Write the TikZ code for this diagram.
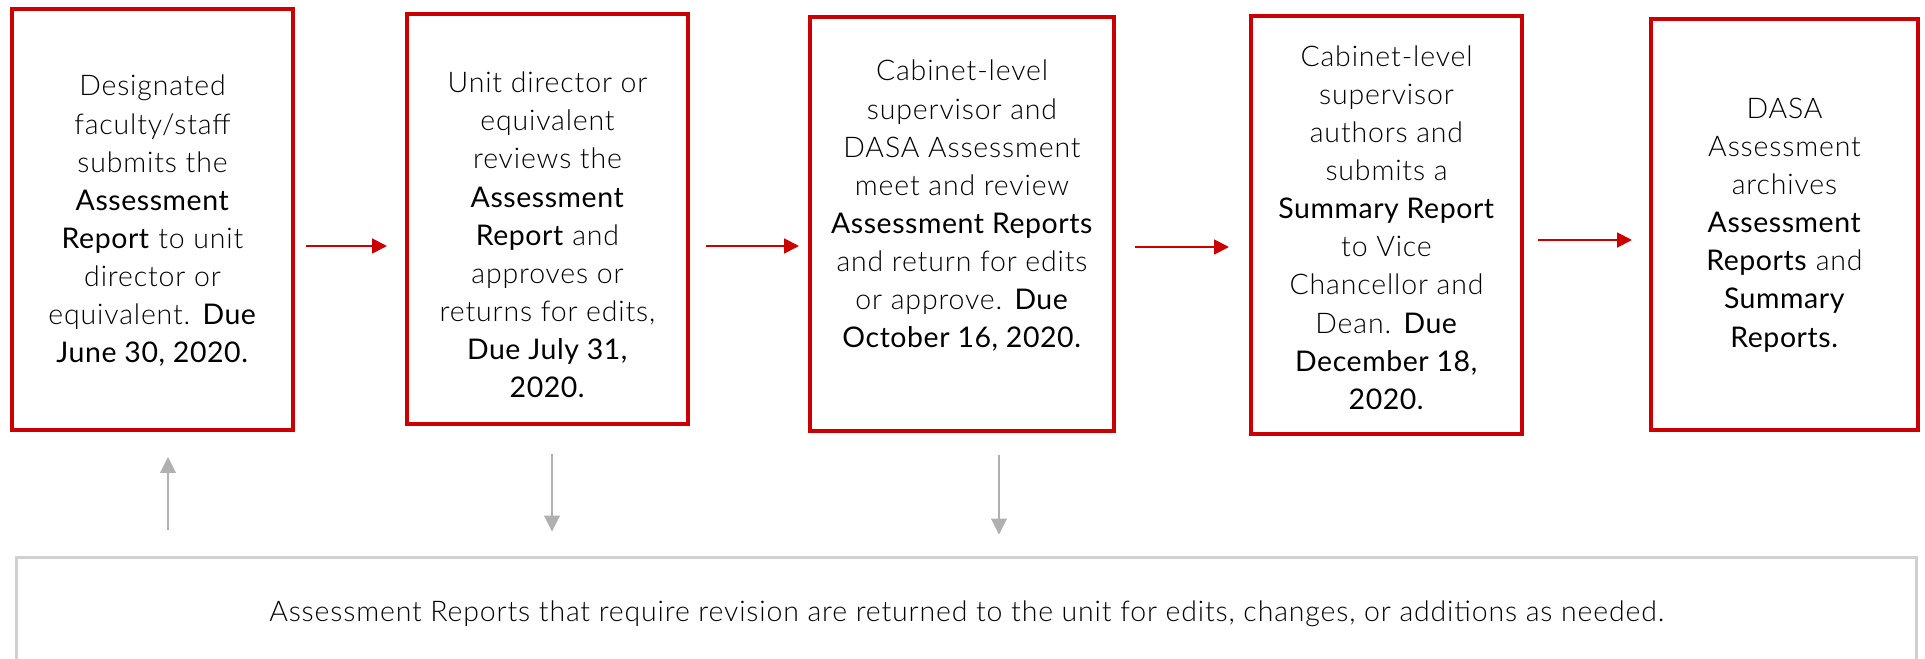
\documentclass[tikz,border=0pt]{standalone}
\usepackage{fontspec}
\setmainfont{Lato Light}[LetterSpace=3,BoldFont=Lato,BoldFeatures={LetterSpace=2}]
\usetikzlibrary{arrows.meta,calc}
\definecolor{boxred}{RGB}{204,0,0}
\definecolor{arrgrey}{RGB}{176,176,176}
\definecolor{framegrey}{RGB}{208,208,208}
\begin{document}
\begin{tikzpicture}[x=0.02cm,y=-0.02cm,
	stepbox/.style={draw=boxred,line width=2.3pt,inner sep=0pt},
	steptxt/.style={align=center,text=black,font=\fontsize{16.2}{21.7}\selectfont},
	redarr/.style={boxred,line width=1.1pt,-{Triangle[length=8.5pt,width=8.5pt]}},
	greyarr/.style={arrgrey,line width=0.6pt,-{Triangle[length=9pt,width=9pt]}}]
	\useasboundingbox (0,0) rectangle (1925,659);
	\clip (0,0) rectangle (1925,659);
	% cac buoc
	\node[stepbox,minimum width=281*0.02cm,minimum height=421*0.02cm] (b1) at (152.5,219.5) {};
	\node[stepbox,minimum width=281*0.02cm,minimum height=410*0.02cm] (b2) at (547.5,219) {};
	\node[stepbox,minimum width=304*0.02cm,minimum height=414*0.02cm] (b3) at (962,224) {};
	\node[stepbox,minimum width=271*0.02cm,minimum height=418*0.02cm] (b4) at (1386.5,225) {};
	\node[stepbox,minimum width=267*0.02cm,minimum height=411*0.02cm] (b5) at (1784.5,224.5) {};
	\node[steptxt] (t1) at ($(b1)+(0,1.5)$) {Designated\\faculty/staff\\submits the\\\textbf{Assessment}\\\textbf{Report} to unit\\director or\\equivalent. \textbf{Due}\\\textbf{June 30, 2020.}};
	\node[steptxt] (t2) at ($(b2)+(0,16)$) {Unit director or\\equivalent\\reviews the\\\textbf{Assessment}\\\textbf{Report} and\\approves or\\returns for edits,\\\textbf{Due July 31,}\\\textbf{2020.}};
	\node[steptxt] (t3) at ($(b3)+(0,-18)$) {Cabinet-level\\supervisor and\\DASA Assessment\\meet and review\\\textbf{Assessment Reports}\\and return for edits\\or approve. \textbf{Due}\\\textbf{October 16, 2020.}};
	\node[steptxt] (t4) at ($(b4)+(0,2.5)$) {Cabinet-level\\supervisor\\authors and\\submits a\\\textbf{Summary Report}\\to Vice\\Chancellor and\\Dean. \textbf{Due}\\\textbf{December 18,}\\\textbf{2020.}};
	\node[steptxt] (t5) at ($(b5)+(0,0.5)$) {DASA\\Assessment\\archives\\\textbf{Assessment}\\\textbf{Reports} and\\\textbf{Summary}\\\textbf{Reports.}};
	% khung duoi
	\node[draw=framegrey,line width=1.7pt,minimum width=1900*0.02cm,minimum height=113*0.02cm,text=black,font=\fontsize{16.2}{21.7}\selectfont] (bot) at (966.5,614) {Assessment Reports that require revision are returned to the unit for edits, changes, or additions as needed.};
	% mui ten do
	\draw[redarr] ($(b1.east)+(11,26.5)$) -- ($(b2.west)+(-18,27)$);
	\draw[redarr] ($(b2.east)+(16,27)$) -- ($(b3.west)+(-9,22)$);
	\draw[redarr] ($(b3.east)+(19,23)$) -- ($(b4.west)+(-20,22)$);
	\draw[redarr] ($(b4.east)+(14,15)$) -- ($(b5.west)+(-17,15.5)$);
	% mui ten xam
	\draw[greyarr] ($(b1.south|-bot.north)+(15.5,-26.5)$) -- ($(b1.south)+(15.5,25)$);
	\draw[greyarr] ($(b2.south)+(4.5,28)$) -- ($(b2.south|-bot.north)+(4.5,-24.5)$);
	\draw[greyarr] ($(b3.south)+(37,22)$) -- ($(b3.south|-bot.north)+(37,-21.5)$);
\end{tikzpicture}
\end{document}
